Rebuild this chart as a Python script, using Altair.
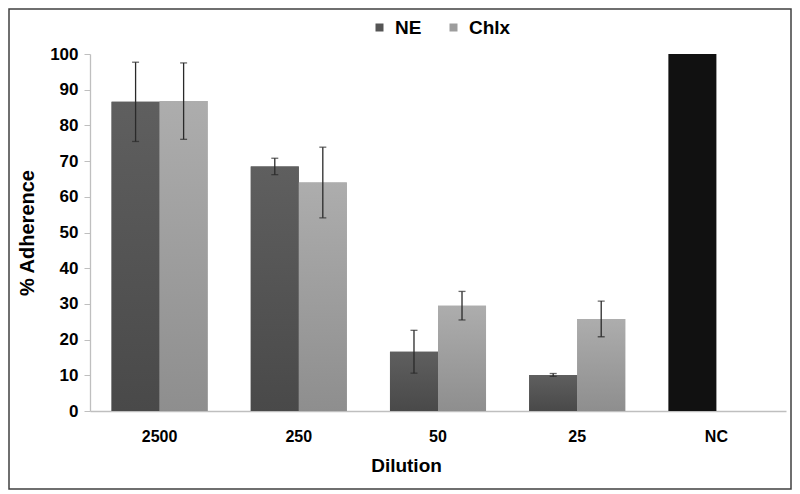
import altair as alt
import pandas as pd

dilutions = ["2500", "250", "50", "25", "NC"]
series_names = ["NE", "Chlx"]
ne_values = [86.6, 68.5, 16.6, 10.1]
ne_err = [11.1, 2.3, 6.0, 0.4]
chlx_values = [86.8, 64.0, 29.5, 25.8]
chlx_err = [10.7, 9.9, 4.0, 5.0]
nc_value = 100.0
y_ticks = [0, 10, 20, 30, 40, 50, 60, 70, 80, 90, 100]

rows = []
for d, v, e in zip(dilutions[:4], ne_values, ne_err):
    rows.append({"dilution": d, "series": "NE", "value": v, "err": e})
for d, v, e in zip(dilutions[:4], chlx_values, chlx_err):
    rows.append({"dilution": d, "series": "Chlx", "value": v, "err": e})
df = pd.DataFrame(rows)
df["lo"] = df["value"] - df["err"]
df["hi"] = df["value"] + df["err"]
nc_df = pd.DataFrame([{"dilution": "NC", "series": "NE", "value": nc_value}])

FONT = "Liberation Sans"

x_scale = alt.Scale(domain=dilutions, paddingInner=0.31, paddingOuter=0.155)
x_axis = alt.Axis(title="Dilution", labelAngle=0, ticks=False, labelPadding=17,
                  titlePadding=12, titleX=316, titleAnchor="start", titleAlign="center")
xo_scale = alt.Scale(domain=series_names, paddingInner=0, paddingOuter=0)
y_scale = alt.Scale(domain=[0, 100])
y_axis = alt.Axis(title="%  Adherence", values=y_ticks, grid=False, tickSize=6,
                  labelPadding=6, titlePadding=12, labelOverlap=False, labelFontSize=17)


def X():
    return alt.X("dilution:N", sort=dilutions, scale=x_scale, axis=x_axis)


def XO():
    return alt.XOffset("series:N", scale=xo_scale)


def Y(field):
    return alt.Y(field, scale=y_scale, axis=y_axis)


ne_grad = alt.LinearGradient(gradient="linear",
                             stops=[alt.GradientStop(color="#5f5f5f", offset=0),
                                    alt.GradientStop(color="#494949", offset=1)],
                             x1=0, x2=0, y1=0, y2=1)
chlx_grad = alt.LinearGradient(gradient="linear",
                               stops=[alt.GradientStop(color="#adadad", offset=0),
                                      alt.GradientStop(color="#8e8e8e", offset=1)],
                               x1=0, x2=0, y1=0, y2=1)

frame = alt.Chart(pd.DataFrame({"a": [0]})).mark_rect(
    filled=False, stroke="#404040", strokeWidth=1.5
).encode(x=alt.value(-81), x2=alt.value(701), y=alt.value(-45), y2=alt.value(435))

base_bars = alt.Chart(df).mark_bar().encode(
    x=X(), xOffset=XO(), y=Y("value:Q"),
    color=alt.Color("series:N",
                    scale=alt.Scale(domain=series_names, range=["#555555", "#9d9d9d"]),
                    legend=alt.Legend(title=None, orient="none", direction="horizontal",
                                      legendX=280, legendY=-36, symbolType="square",
                                      symbolSize=64, symbolStrokeWidth=0, labelOffset=6,
                                      gridAlign="none",
                                      labelFont=FONT, labelFontSize=19, labelFontWeight="bold",
                                      labelColor="#000000", columnPadding=22, padding=0))
)

ne_bars = alt.Chart(df).transform_filter(alt.datum.series == "NE").mark_bar(fill=ne_grad).encode(
    x=X(), xOffset=XO(), y=Y("value:Q"))
chlx_bars = alt.Chart(df).transform_filter(alt.datum.series == "Chlx").mark_bar(fill=chlx_grad).encode(
    x=X(), xOffset=XO(), y=Y("value:Q"))
nc_bar = alt.Chart(nc_df).mark_bar(fill="#111111").encode(
    x=X(), xOffset=XO(), y=Y("value:Q"))

err_rule = alt.Chart(df).mark_rule(color="#2a2a2a", strokeWidth=1.3).encode(
    x=X(), xOffset=XO(), y=Y("lo:Q"), y2="hi:Q")
cap_lo = alt.Chart(df).mark_tick(color="#2a2a2a", size=7, thickness=1.3, orient="horizontal").encode(
    x=X(), xOffset=XO(), y=Y("lo:Q"))
cap_hi = alt.Chart(df).mark_tick(color="#2a2a2a", size=7, thickness=1.3, orient="horizontal").encode(
    x=X(), xOffset=XO(), y=Y("hi:Q"))

chart = alt.layer(frame, base_bars, ne_bars, chlx_bars, nc_bar, err_rule, cap_lo, cap_hi).properties(
    width=696, height=357,
    padding={"left": 82, "top": 46, "right": 6, "bottom": 80},
    autosize="none",
    background="white",
).configure_view(stroke=None).configure_axis(
    labelFont=FONT, labelFontSize=16, labelFontWeight="bold", labelColor="#000000",
    titleFont=FONT, titleFontWeight="bold", titleColor="#000000",
    domainColor="#bfbfbf", tickColor="#bfbfbf", domainWidth=1.3,
).configure_axisX(titleFontSize=19).configure_axisY(titleFontSize=20)

chart.save("out.html", embed_options={"renderer": "svg", "actions": False})
